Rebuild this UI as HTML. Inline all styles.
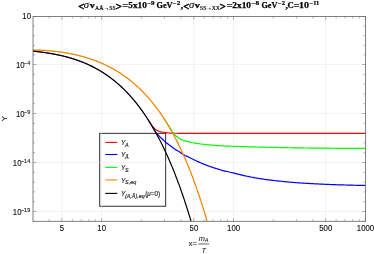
<!DOCTYPE html>
<html><head><meta charset="utf-8"><title>plot</title><style>html,body{margin:0;padding:0;background:#fff}svg{display:block;will-change:transform}</style></head><body>
<svg width="374" height="254" viewBox="0 0 374 254">
<rect width="374" height="254" fill="#fff"/>
<rect x="99.65" y="133.4" width="65.95" height="72.9" fill="#fff" stroke="#444" stroke-width="1.1"/>
<path d="M61.89,16.5 V221.3 M101.60,16.5 V221.3 M193.79,16.5 V221.3 M233.50,16.5 V221.3 M325.69,16.5 V221.3 M33.0,64.50 H365.5 M33.0,113.50 H365.5 M33.0,162.50 H365.5 M33.0,211.50 H365.5" stroke="#e6e6e6" stroke-width="0.5" fill="none"/>
<defs><clipPath id="c"><rect x="33.0" y="16.5" width="332.5" height="204.8"/></clipPath></defs>
<g clip-path="url(#c)" fill="none" stroke-width="1.2" stroke-linejoin="round">
<path d="M32.0,51.03 33.0,51.13 34.0,51.24 35.0,51.34 36.0,51.45 37.0,51.57 38.0,51.68 39.0,51.80 40.0,51.93 41.0,52.05 42.0,52.18 43.0,52.32 44.0,52.46 45.0,52.60 46.0,52.75 47.0,52.90 48.0,53.06 49.0,53.22 50.0,53.38 51.0,53.55 52.0,53.73 53.0,53.91 54.0,54.10 55.0,54.29 56.0,54.48 57.0,54.68 58.0,54.89 59.0,55.11 60.0,55.33 61.0,55.55 62.0,55.78 63.0,56.02 64.0,56.27 65.0,56.52 66.0,56.77 67.0,57.04 68.0,57.31 69.0,57.59 70.0,57.88 71.0,58.17 72.0,58.47 73.0,58.78 74.0,59.10 75.0,59.43 76.0,59.76 77.0,60.11 78.0,60.46 79.0,60.82 80.0,61.19 81.0,61.57 82.0,61.95 83.0,62.35 84.0,62.76 85.0,63.17 86.0,63.60 87.0,64.04 88.0,64.49 89.0,64.95 90.0,65.41 91.0,65.89 92.0,66.39 93.0,66.89 94.0,67.40 95.0,67.93 96.0,68.47 97.0,69.02 98.0,69.58 99.0,70.16 100.0,70.75 101.0,71.35 102.0,71.96 103.0,72.59 104.0,73.24 105.0,73.89 106.0,74.56 107.0,75.25 108.0,75.95 109.0,76.67 110.0,77.40 111.0,78.14 112.0,78.91 113.0,79.69 114.0,80.48 115.0,81.29 116.0,82.12 117.0,82.97 118.0,83.83 119.0,84.71 120.0,85.61 121.0,86.53 122.0,87.47 123.0,88.42 124.0,89.40 125.0,90.39 126.0,91.41 127.0,92.44 128.0,93.50 129.0,94.58 130.0,95.68 131.0,96.80 132.0,97.94 133.0,99.10 134.0,100.29 135.0,101.50 136.0,102.74 137.0,103.99 138.0,105.28 139.0,106.58 140.0,107.92 141.0,109.28 142.0,110.66 143.0,112.07 144.0,113.51 145.0,114.97 146.0,116.47 147.0,117.99 148.0,119.54 149.0,121.14 150.0,122.72" stroke="#ff0000" stroke-width="0.5"/>
<path d="M32.0,51.03 33.0,51.13 34.0,51.24 35.0,51.34 36.0,51.45 37.0,51.57 38.0,51.68 39.0,51.80 40.0,51.93 41.0,52.05 42.0,52.18 43.0,52.32 44.0,52.46 45.0,52.60 46.0,52.75 47.0,52.90 48.0,53.06 49.0,53.22 50.0,53.38 51.0,53.55 52.0,53.73 53.0,53.91 54.0,54.10 55.0,54.29 56.0,54.48 57.0,54.68 58.0,54.89 59.0,55.11 60.0,55.33 61.0,55.55 62.0,55.78 63.0,56.02 64.0,56.27 65.0,56.52 66.0,56.77 67.0,57.04 68.0,57.31 69.0,57.59 70.0,57.88 71.0,58.17 72.0,58.47 73.0,58.78 74.0,59.10 75.0,59.43 76.0,59.76 77.0,60.11 78.0,60.46 79.0,60.82 80.0,61.19 81.0,61.57 82.0,61.95 83.0,62.35 84.0,62.76 85.0,63.17 86.0,63.60 87.0,64.04 88.0,64.49 89.0,64.95 90.0,65.41 91.0,65.89 92.0,66.39 93.0,66.89 94.0,67.40 95.0,67.93 96.0,68.47 97.0,69.02 98.0,69.58 99.0,70.16 100.0,70.75 101.0,71.35 102.0,71.96 103.0,72.59 104.0,73.24 105.0,73.89 106.0,74.56 107.0,75.25 108.0,75.95 109.0,76.67 110.0,77.40 111.0,78.14 112.0,78.91 113.0,79.69 114.0,80.48 115.0,81.29 116.0,82.12 117.0,82.97 118.0,83.83 119.0,84.71 120.0,85.61 121.0,86.53 122.0,87.47 123.0,88.42 124.0,89.40 125.0,90.39 126.0,91.41 127.0,92.44 128.0,93.50 129.0,94.58 130.0,95.68 131.0,96.80 132.0,97.94 133.0,99.10 134.0,100.29 135.0,101.50 136.0,102.74 137.0,103.99 138.0,105.28 139.0,106.58 140.0,107.92 141.0,109.28 142.0,110.66 143.0,112.07 144.0,113.51 145.0,114.97 146.0,116.47 147.0,117.99 148.0,119.54 149.0,121.11 150.0,122.72 151.0,124.37 152.0,126.03 153.0,127.75" stroke="#0000ff" stroke-width="0.5"/>
<path d="M32.0,49.96 33.0,49.97 34.0,49.99 35.0,50.01 36.0,50.04 37.0,50.07 38.0,50.10 39.0,50.14 40.0,50.18 41.0,50.23 42.0,50.28 43.0,50.33 44.0,50.39 45.0,50.46 46.0,50.53 47.0,50.60 48.0,50.67 49.0,50.76 50.0,50.84 51.0,50.93 52.0,51.03 53.0,51.13 54.0,51.23 55.0,51.34 56.0,51.45 57.0,51.57 58.0,51.70 59.0,51.83 60.0,51.96 61.0,52.10 62.0,52.25 63.0,52.40 64.0,52.55 65.0,52.72 66.0,52.88 67.0,53.06 68.0,53.23 69.0,53.42 70.0,53.61 71.0,53.80 72.0,54.01 73.0,54.21 74.0,54.43 75.0,54.65 76.0,54.88 77.0,55.11 78.0,55.35 79.0,55.60 80.0,55.85 81.0,56.11 82.0,56.38 83.0,56.65 84.0,56.94 85.0,57.23 86.0,57.52 87.0,57.83 88.0,58.14 89.0,58.46 90.0,58.79 91.0,59.12 92.0,59.47 93.0,59.82 94.0,60.18 95.0,60.55 96.0,60.93 97.0,61.32 98.0,61.71 99.0,62.12 100.0,62.53 101.0,62.96 102.0,63.39 103.0,63.83 104.0,64.29 105.0,64.75 106.0,65.23 107.0,65.71 108.0,66.21 109.0,66.71 110.0,67.23 111.0,67.76 112.0,68.30 113.0,68.85 114.0,69.42 115.0,69.99 116.0,70.58 117.0,71.18 118.0,71.79 119.0,72.42 120.0,73.06 121.0,73.71 122.0,74.38 123.0,75.06 124.0,75.75 125.0,76.46 126.0,77.18 127.0,77.92 128.0,78.68 129.0,79.45 130.0,80.23 131.0,81.03 132.0,81.85 133.0,82.68 134.0,83.53 135.0,84.40 136.0,85.28 137.0,86.19 138.0,87.11 139.0,88.05 140.0,89.01 141.0,89.98 142.0,90.98 143.0,92.00 144.0,93.03 145.0,94.08 146.0,95.15 147.0,96.24 148.0,97.35 149.0,98.48 150.0,99.63 151.0,100.80 152.0,102.00 153.0,103.22 154.0,104.47 155.0,105.74 156.0,107.03 157.0,108.36 158.0,109.70 159.0,111.08 160.0,112.48 161.0,113.91 162.0,115.36 163.0,116.85 164.0,118.36 165.0,119.90" stroke="#00ff00" stroke-width="0.5"/>
<path d="M149.0,121.14 150.0,122.72 151.0,124.25 152.0,125.72 153.0,126.98 154.0,128.00 155.0,128.92 156.0,129.73 157.0,130.36 158.0,130.87 159.0,131.27 160.0,131.60 161.0,131.88 162.0,132.10 163.0,132.28 164.0,132.44 165.0,132.58 166.0,132.70 167.0,132.81 168.0,132.90 169.0,132.98 170.0,133.05 171.0,133.10 172.0,133.15 173.0,133.20 174.0,133.23 175.0,133.25 176.0,133.26 177.0,133.27 178.0,133.28 179.0,133.29 180.0,133.30 181.0,133.30 182.0,133.30 183.0,133.30 184.0,133.30 185.0,133.30 186.0,133.30 187.0,133.30 188.0,133.30 189.0,133.30 190.0,133.30 191.0,133.30 192.0,133.30 193.0,133.30 194.0,133.30 195.0,133.30 196.0,133.30 197.0,133.30 198.0,133.30 199.0,133.30 200.0,133.30 201.0,133.30 202.0,133.30 203.0,133.30 204.0,133.30 205.0,133.30 206.0,133.30 207.0,133.30 208.0,133.30 209.0,133.30 210.0,133.30 211.0,133.30 212.0,133.30 213.0,133.30 214.0,133.30 215.0,133.30 216.0,133.30 217.0,133.30 218.0,133.30 219.0,133.30 220.0,133.30 221.0,133.30 222.0,133.30 223.0,133.30 224.0,133.30 225.0,133.30 226.0,133.30 227.0,133.30 228.0,133.30 229.0,133.30 230.0,133.30 231.0,133.30 232.0,133.30 233.0,133.30 234.0,133.30 235.0,133.30 236.0,133.30 237.0,133.30 238.0,133.30 239.0,133.30 240.0,133.30 241.0,133.30 242.0,133.30 243.0,133.30 244.0,133.30 245.0,133.30 246.0,133.30 247.0,133.30 248.0,133.30 249.0,133.30 250.0,133.30 251.0,133.30 252.0,133.30 253.0,133.30 254.0,133.30 255.0,133.30 256.0,133.30 257.0,133.30 258.0,133.30 259.0,133.30 260.0,133.30 261.0,133.30 262.0,133.30 263.0,133.30 264.0,133.30 265.0,133.30 266.0,133.30 267.0,133.30 268.0,133.30 269.0,133.30 270.0,133.30 271.0,133.30 272.0,133.30 273.0,133.30 274.0,133.30 275.0,133.30 276.0,133.30 277.0,133.30 278.0,133.30 279.0,133.30 280.0,133.30 281.0,133.30 282.0,133.30 283.0,133.30 284.0,133.30 285.0,133.30 286.0,133.30 287.0,133.30 288.0,133.30 289.0,133.30 290.0,133.30 291.0,133.30 292.0,133.30 293.0,133.30 294.0,133.30 295.0,133.30 296.0,133.30 297.0,133.30 298.0,133.30 299.0,133.30 300.0,133.30 301.0,133.30 302.0,133.30 303.0,133.30 304.0,133.30 305.0,133.30 306.0,133.30 307.0,133.30 308.0,133.30 309.0,133.30 310.0,133.30 311.0,133.30 312.0,133.30 313.0,133.30 314.0,133.30 315.0,133.30 316.0,133.30 317.0,133.30 318.0,133.30 319.0,133.30 320.0,133.30 321.0,133.30 322.0,133.30 323.0,133.30 324.0,133.30 325.0,133.30 326.0,133.30 327.0,133.30 328.0,133.30 329.0,133.30 330.0,133.30 331.0,133.30 332.0,133.30 333.0,133.30 334.0,133.30 335.0,133.30 336.0,133.30 337.0,133.30 338.0,133.30 339.0,133.30 340.0,133.30 341.0,133.30 342.0,133.30 343.0,133.30 344.0,133.30 345.0,133.30 346.0,133.30 347.0,133.30 348.0,133.30 349.0,133.30 350.0,133.30 351.0,133.30 352.0,133.30 353.0,133.30 354.0,133.30 355.0,133.30 356.0,133.30 357.0,133.30 358.0,133.30 359.0,133.30 360.0,133.30 361.0,133.30 362.0,133.30 363.0,133.30 364.0,133.30 365.0,133.30 366.0,133.30" stroke="#ff0000"/>
<path d="M152.0,126.03 153.0,127.75 154.0,129.50 155.0,131.13 156.0,132.52 157.0,133.71 158.0,134.80 159.0,135.85 160.0,136.86 161.0,137.84 162.0,138.80 163.0,139.75 164.0,140.68 165.0,141.57 166.0,142.43 167.0,143.25 168.0,144.05 169.0,144.83 170.0,145.56 171.0,146.27 172.0,146.99 173.0,147.76 174.0,148.60 175.0,149.27 176.0,149.86 177.0,150.41 178.0,150.96 179.0,151.55 180.0,152.21 181.0,152.94 182.0,153.68 183.0,154.34 184.0,154.90 185.0,155.42 186.0,155.91 187.0,156.37 188.0,156.82 189.0,157.28 190.0,157.75 191.0,158.24 192.0,158.74 193.0,159.24 194.0,159.74 195.0,160.22 196.0,160.70 197.0,161.17 198.0,161.63 199.0,162.09 200.0,162.54 201.0,162.98 202.0,163.41 203.0,163.82 204.0,164.23 205.0,164.64 206.0,165.03 207.0,165.42 208.0,165.79 209.0,166.16 210.0,166.51 211.0,166.85 212.0,167.19 213.0,167.51 214.0,167.84 215.0,168.15 216.0,168.47 217.0,168.78 218.0,169.10 219.0,169.42 220.0,169.72 221.0,170.02 222.0,170.31 223.0,170.58 224.0,170.83 225.0,171.08 226.0,171.31 227.0,171.54 228.0,171.77 229.0,172.01 230.0,172.24 231.0,172.48 232.0,172.72 233.0,172.95 234.0,173.19 235.0,173.43 236.0,173.68 237.0,173.93 238.0,174.19 239.0,174.45 240.0,174.70 241.0,174.93 242.0,175.16 243.0,175.39 244.0,175.61 245.0,175.82 246.0,176.03 247.0,176.24 248.0,176.44 249.0,176.64 250.0,176.84 251.0,177.03 252.0,177.23 253.0,177.42 254.0,177.61 255.0,177.79 256.0,177.97 257.0,178.15 258.0,178.32 259.0,178.49 260.0,178.65 261.0,178.81 262.0,178.96 263.0,179.11 264.0,179.26 265.0,179.40 266.0,179.54 267.0,179.68 268.0,179.81 269.0,179.94 270.0,180.06 271.0,180.18 272.0,180.30 273.0,180.41 274.0,180.52 275.0,180.63 276.0,180.74 277.0,180.85 278.0,180.95 279.0,181.06 280.0,181.16 281.0,181.27 282.0,181.38 283.0,181.48 284.0,181.59 285.0,181.69 286.0,181.79 287.0,181.89 288.0,181.99 289.0,182.08 290.0,182.17 291.0,182.26 292.0,182.35 293.0,182.44 294.0,182.52 295.0,182.60 296.0,182.68 297.0,182.76 298.0,182.83 299.0,182.90 300.0,182.96 301.0,183.02 302.0,183.08 303.0,183.14 304.0,183.19 305.0,183.25 306.0,183.30 307.0,183.36 308.0,183.41 309.0,183.47 310.0,183.53 311.0,183.58 312.0,183.64 313.0,183.69 314.0,183.75 315.0,183.80 316.0,183.86 317.0,183.91 318.0,183.96 319.0,184.01 320.0,184.06 321.0,184.10 322.0,184.15 323.0,184.19 324.0,184.24 325.0,184.28 326.0,184.32 327.0,184.36 328.0,184.41 329.0,184.45 330.0,184.49 331.0,184.53 332.0,184.56 333.0,184.60 334.0,184.64 335.0,184.68 336.0,184.71 337.0,184.75 338.0,184.78 339.0,184.81 340.0,184.84 341.0,184.88 342.0,184.91 343.0,184.94 344.0,184.97 345.0,184.99 346.0,185.02 347.0,185.05 348.0,185.08 349.0,185.11 350.0,185.13 351.0,185.16 352.0,185.19 353.0,185.21 354.0,185.24 355.0,185.26 356.0,185.29 357.0,185.31 358.0,185.33 359.0,185.35 360.0,185.38 361.0,185.40 362.0,185.42 363.0,185.44 364.0,185.46 365.0,185.47 366.0,185.49" stroke="#0000ff"/>
<path d="M164.0,118.36 165.0,119.90 166.0,121.48 167.0,123.08 168.0,124.71 169.0,126.41 170.0,128.08 171.0,129.64 172.0,131.14 173.0,132.54 174.0,133.81 175.0,134.98 176.0,135.98 177.0,136.85 178.0,137.60 179.0,138.27 180.0,138.89 181.0,139.44 182.0,139.90 183.0,140.29 184.0,140.62 185.0,140.93 186.0,141.20 187.0,141.45 188.0,141.68 189.0,141.89 190.0,142.10 191.0,142.32 192.0,142.53 193.0,142.74 194.0,142.95 195.0,143.13 196.0,143.30 197.0,143.45 198.0,143.60 199.0,143.74 200.0,143.87 201.0,144.00 202.0,144.12 203.0,144.24 204.0,144.35 205.0,144.46 206.0,144.57 207.0,144.67 208.0,144.77 209.0,144.86 210.0,144.96 211.0,145.05 212.0,145.13 213.0,145.22 214.0,145.31 215.0,145.39 216.0,145.47 217.0,145.54 218.0,145.61 219.0,145.68 220.0,145.75 221.0,145.81 222.0,145.86 223.0,145.91 224.0,145.96 225.0,146.01 226.0,146.05 227.0,146.09 228.0,146.13 229.0,146.16 230.0,146.20 231.0,146.23 232.0,146.27 233.0,146.30 234.0,146.33 235.0,146.36 236.0,146.40 237.0,146.43 238.0,146.46 239.0,146.49 240.0,146.52 241.0,146.55 242.0,146.58 243.0,146.61 244.0,146.64 245.0,146.67 246.0,146.70 247.0,146.73 248.0,146.76 249.0,146.78 250.0,146.81 251.0,146.84 252.0,146.87 253.0,146.89 254.0,146.92 255.0,146.95 256.0,146.97 257.0,147.00 258.0,147.02 259.0,147.05 260.0,147.07 261.0,147.10 262.0,147.12 263.0,147.15 264.0,147.17 265.0,147.20 266.0,147.22 267.0,147.24 268.0,147.27 269.0,147.29 270.0,147.31 271.0,147.33 272.0,147.36 273.0,147.38 274.0,147.40 275.0,147.42 276.0,147.45 277.0,147.47 278.0,147.49 279.0,147.51 280.0,147.54 281.0,147.56 282.0,147.58 283.0,147.60 284.0,147.62 285.0,147.65 286.0,147.67 287.0,147.69 288.0,147.71 289.0,147.73 290.0,147.75 291.0,147.77 292.0,147.79 293.0,147.81 294.0,147.83 295.0,147.84 296.0,147.86 297.0,147.88 298.0,147.89 299.0,147.91 300.0,147.92 301.0,147.94 302.0,147.95 303.0,147.97 304.0,147.98 305.0,147.99 306.0,148.00 307.0,148.01 308.0,148.02 309.0,148.03 310.0,148.04 311.0,148.05 312.0,148.06 313.0,148.07 314.0,148.08 315.0,148.09 316.0,148.10 317.0,148.11 318.0,148.12 319.0,148.13 320.0,148.14 321.0,148.15 322.0,148.16 323.0,148.17 324.0,148.18 325.0,148.19 326.0,148.19 327.0,148.20 328.0,148.21 329.0,148.22 330.0,148.23 331.0,148.24 332.0,148.24 333.0,148.25 334.0,148.26 335.0,148.27 336.0,148.28 337.0,148.28 338.0,148.29 339.0,148.30 340.0,148.30 341.0,148.31 342.0,148.32 343.0,148.32 344.0,148.33 345.0,148.33 346.0,148.34 347.0,148.35 348.0,148.35 349.0,148.36 350.0,148.36 351.0,148.36 352.0,148.37 353.0,148.37 354.0,148.38 355.0,148.38 356.0,148.38 357.0,148.39 358.0,148.39 359.0,148.39 360.0,148.39 361.0,148.40 362.0,148.40 363.0,148.40 364.0,148.40 365.0,148.40 366.0,148.40" stroke="#00ff00"/>
<path d="M32.0,49.96 32.5,49.97 33.0,49.97 33.5,49.98 34.0,49.99 34.5,50.00 35.0,50.01 35.5,50.03 36.0,50.04 36.5,50.05 37.0,50.07 37.5,50.09 38.0,50.10 38.5,50.12 39.0,50.14 39.5,50.16 40.0,50.18 40.5,50.21 41.0,50.23 41.5,50.25 42.0,50.28 42.5,50.31 43.0,50.33 43.5,50.36 44.0,50.39 44.5,50.43 45.0,50.46 45.5,50.49 46.0,50.53 46.5,50.56 47.0,50.60 47.5,50.64 48.0,50.67 48.5,50.71 49.0,50.76 49.5,50.80 50.0,50.84 50.5,50.89 51.0,50.93 51.5,50.98 52.0,51.03 52.5,51.08 53.0,51.13 53.5,51.18 54.0,51.23 54.5,51.29 55.0,51.34 55.5,51.40 56.0,51.45 56.5,51.51 57.0,51.57 57.5,51.64 58.0,51.70 58.5,51.76 59.0,51.83 59.5,51.89 60.0,51.96 60.5,52.03 61.0,52.10 61.5,52.17 62.0,52.25 62.5,52.32 63.0,52.40 63.5,52.48 64.0,52.55 64.5,52.63 65.0,52.72 65.5,52.80 66.0,52.88 66.5,52.97 67.0,53.06 67.5,53.14 68.0,53.23 68.5,53.32 69.0,53.42 69.5,53.51 70.0,53.61 70.5,53.70 71.0,53.80 71.5,53.90 72.0,54.01 72.5,54.11 73.0,54.21 73.5,54.32 74.0,54.43 74.5,54.54 75.0,54.65 75.5,54.76 76.0,54.88 76.5,54.99 77.0,55.11 77.5,55.23 78.0,55.35 78.5,55.47 79.0,55.60 79.5,55.72 80.0,55.85 80.5,55.98 81.0,56.11 81.5,56.24 82.0,56.38 82.5,56.52 83.0,56.65 83.5,56.79 84.0,56.94 84.5,57.08 85.0,57.23 85.5,57.37 86.0,57.52 86.5,57.67 87.0,57.83 87.5,57.98 88.0,58.14 88.5,58.30 89.0,58.46 89.5,58.62 90.0,58.79 90.5,58.95 91.0,59.12 91.5,59.29 92.0,59.47 92.5,59.64 93.0,59.82 93.5,60.00 94.0,60.18 94.5,60.36 95.0,60.55 95.5,60.74 96.0,60.93 96.5,61.12 97.0,61.32 97.5,61.51 98.0,61.71 98.5,61.91 99.0,62.12 99.5,62.32 100.0,62.53 100.5,62.74 101.0,62.96 101.5,63.17 102.0,63.39 102.5,63.61 103.0,63.83 103.5,64.06 104.0,64.29 104.5,64.52 105.0,64.75 105.5,64.99 106.0,65.23 106.5,65.47 107.0,65.71 107.5,65.96 108.0,66.21 108.5,66.46 109.0,66.71 109.5,66.97 110.0,67.23 110.5,67.49 111.0,67.76 111.5,68.03 112.0,68.30 112.5,68.57 113.0,68.85 113.5,69.13 114.0,69.42 114.5,69.70 115.0,69.99 115.5,70.28 116.0,70.58 116.5,70.88 117.0,71.18 117.5,71.49 118.0,71.79 118.5,72.10 119.0,72.42 119.5,72.74 120.0,73.06 120.5,73.38 121.0,73.71 121.5,74.04 122.0,74.38 122.5,74.72 123.0,75.06 123.5,75.40 124.0,75.75 124.5,76.11 125.0,76.46 125.5,76.82 126.0,77.18 126.5,77.55 127.0,77.92 127.5,78.30 128.0,78.68 128.5,79.06 129.0,79.45 129.5,79.84 130.0,80.23 130.5,80.63 131.0,81.03 131.5,81.44 132.0,81.85 132.5,82.26 133.0,82.68 133.5,83.10 134.0,83.53 134.5,83.96 135.0,84.40 135.5,84.84 136.0,85.28 136.5,85.73 137.0,86.19 137.5,86.64 138.0,87.11 138.5,87.57 139.0,88.05 139.5,88.52 140.0,89.01 140.5,89.49 141.0,89.98 141.5,90.48 142.0,90.98 142.5,91.48 143.0,92.00 143.5,92.51 144.0,93.03 144.5,93.56 145.0,94.09 145.5,94.63 146.0,95.17 146.5,95.71 147.0,96.27 147.5,96.83 148.0,97.39 148.5,97.96 149.0,98.53 149.5,99.11 150.0,99.70 150.5,100.29 151.0,100.89 151.5,101.49 152.0,102.10 152.5,102.71 153.0,103.33 153.5,103.96 154.0,104.59 154.5,105.23 155.0,105.88 155.5,106.53 156.0,107.19 156.5,107.85 157.0,108.52 157.5,109.20 158.0,109.89 158.5,110.58 159.0,111.27 159.5,111.98 160.0,112.69 160.5,113.41 161.0,114.13 161.5,114.86 162.0,115.60 162.5,116.35 163.0,117.10 163.5,117.86 164.0,118.63 164.5,119.40 165.0,120.18 165.5,120.97 166.0,121.77 166.5,122.57 167.0,123.39 167.5,124.21 168.0,125.04 168.5,125.87 169.0,126.72 169.5,127.57 170.0,128.43 170.5,129.30 171.0,130.18 171.5,131.06 172.0,131.96 172.5,132.86 173.0,133.77 173.5,134.69 174.0,135.62 174.5,136.55 175.0,137.50 175.5,138.46 176.0,139.42 176.5,140.39 177.0,141.38 177.5,142.37 178.0,143.37 178.5,144.38 179.0,145.40 179.5,146.43 180.0,147.47 180.5,148.52 181.0,149.58 181.5,150.65 182.0,151.73 182.5,152.82 183.0,153.92 183.5,155.04 184.0,156.16 184.5,157.29 185.0,158.43 185.5,159.59 186.0,160.75 186.5,161.93 187.0,163.11 187.5,164.31 188.0,165.52 188.5,166.74 189.0,167.97 189.5,169.22 190.0,170.47 190.5,171.74 191.0,173.02 191.5,174.31 192.0,175.62 192.5,176.93 193.0,178.26 193.5,179.60 194.0,180.95 194.5,182.32 195.0,183.70 195.5,185.09 196.0,186.50 196.5,187.91 197.0,189.35 197.5,190.79 198.0,192.25 198.5,193.72 199.0,195.21 199.5,196.71 200.0,198.22 200.5,199.75 201.0,201.29 201.5,202.85 202.0,204.42 202.5,206.00 203.0,207.61 203.5,209.22 204.0,210.85 204.5,212.50 205.0,214.16 205.5,215.84 206.0,217.53 206.5,219.24 207.0,220.96 207.5,222.70 208.0,224.46 208.5,226.23 209.0,228.02 209.5,229.83 210.0,231.65 210.5,233.49" stroke="#ff8000"/>
<path d="M32.0,51.03 32.5,51.08 33.0,51.13 33.5,51.18 34.0,51.24 34.5,51.29 35.0,51.34 35.5,51.40 36.0,51.45 36.5,51.51 37.0,51.57 37.5,51.62 38.0,51.68 38.5,51.74 39.0,51.80 39.5,51.86 40.0,51.93 40.5,51.99 41.0,52.05 41.5,52.12 42.0,52.18 42.5,52.25 43.0,52.32 43.5,52.39 44.0,52.46 44.5,52.53 45.0,52.60 45.5,52.68 46.0,52.75 46.5,52.82 47.0,52.90 47.5,52.98 48.0,53.06 48.5,53.14 49.0,53.22 49.5,53.30 50.0,53.38 50.5,53.47 51.0,53.55 51.5,53.64 52.0,53.73 52.5,53.82 53.0,53.91 53.5,54.00 54.0,54.10 54.5,54.19 55.0,54.29 55.5,54.38 56.0,54.48 56.5,54.58 57.0,54.68 57.5,54.79 58.0,54.89 58.5,55.00 59.0,55.11 59.5,55.21 60.0,55.33 60.5,55.44 61.0,55.55 61.5,55.67 62.0,55.78 62.5,55.90 63.0,56.02 63.5,56.14 64.0,56.27 64.5,56.39 65.0,56.52 65.5,56.64 66.0,56.77 66.5,56.91 67.0,57.04 67.5,57.18 68.0,57.31 68.5,57.45 69.0,57.59 69.5,57.73 70.0,57.88 70.5,58.02 71.0,58.17 71.5,58.32 72.0,58.47 72.5,58.63 73.0,58.78 73.5,58.94 74.0,59.10 74.5,59.26 75.0,59.43 75.5,59.59 76.0,59.76 76.5,59.93 77.0,60.11 77.5,60.28 78.0,60.46 78.5,60.64 79.0,60.82 79.5,61.00 80.0,61.19 80.5,61.37 81.0,61.57 81.5,61.76 82.0,61.95 82.5,62.15 83.0,62.35 83.5,62.55 84.0,62.76 84.5,62.96 85.0,63.17 85.5,63.39 86.0,63.60 86.5,63.82 87.0,64.04 87.5,64.26 88.0,64.49 88.5,64.71 89.0,64.95 89.5,65.18 90.0,65.41 90.5,65.65 91.0,65.89 91.5,66.14 92.0,66.39 92.5,66.64 93.0,66.89 93.5,67.14 94.0,67.40 94.5,67.67 95.0,67.93 95.5,68.20 96.0,68.47 96.5,68.74 97.0,69.02 97.5,69.30 98.0,69.58 98.5,69.87 99.0,70.16 99.5,70.45 100.0,70.75 100.5,71.05 101.0,71.35 101.5,71.66 102.0,71.96 102.5,72.28 103.0,72.59 103.5,72.91 104.0,73.24 104.5,73.56 105.0,73.89 105.5,74.23 106.0,74.56 106.5,74.91 107.0,75.25 107.5,75.60 108.0,75.95 108.5,76.31 109.0,76.67 109.5,77.03 110.0,77.40 110.5,77.77 111.0,78.14 111.5,78.52 112.0,78.91 112.5,79.29 113.0,79.69 113.5,80.08 114.0,80.48 114.5,80.89 115.0,81.29 115.5,81.71 116.0,82.12 116.5,82.54 117.0,82.97 117.5,83.40 118.0,83.83 118.5,84.27 119.0,84.71 119.5,85.16 120.0,85.61 120.5,86.07 121.0,86.53 121.5,87.00 122.0,87.47 122.5,87.94 123.0,88.42 123.5,88.91 124.0,89.40 124.5,89.89 125.0,90.39 125.5,90.90 126.0,91.41 126.5,91.92 127.0,92.44 127.5,92.97 128.0,93.50 128.5,94.04 129.0,94.58 129.5,95.12 130.0,95.68 130.5,96.23 131.0,96.80 131.5,97.36 132.0,97.94 132.5,98.52 133.0,99.10 133.5,99.69 134.0,100.29 134.5,100.89 135.0,101.50 135.5,102.12 136.0,102.74 136.5,103.36 137.0,103.99 137.5,104.63 138.0,105.28 138.5,105.93 139.0,106.58 139.5,107.25 140.0,107.92 140.5,108.59 141.0,109.28 141.5,109.96 142.0,110.66 142.5,111.36 143.0,112.07 143.5,112.79 144.0,113.51 144.5,114.24 145.0,114.97 145.5,115.72 146.0,116.47 146.5,117.22 147.0,117.99 147.5,118.76 148.0,119.54 148.5,120.32 149.0,121.11 149.5,121.91 150.0,122.72 150.5,123.54 151.0,124.36 151.5,125.19 152.0,126.03 152.5,126.87 153.0,127.73 153.5,128.59 154.0,129.46 154.5,130.34 155.0,131.22 155.5,132.12 156.0,133.02 156.5,133.93 157.0,134.85 157.5,135.77 158.0,136.71 158.5,137.65 159.0,138.61 159.5,139.57 160.0,140.54 160.5,141.52 161.0,142.50 161.5,143.50 162.0,144.51 162.5,145.52 163.0,146.55 163.5,147.58 164.0,148.62 164.5,149.67 165.0,150.74 165.5,151.81 166.0,152.89 166.5,153.98 167.0,155.08 167.5,156.19 168.0,157.31 168.5,158.44 169.0,159.58 169.5,160.73 170.0,161.89 170.5,163.06 171.0,164.25 171.5,165.44 172.0,166.64 172.5,167.85 173.0,169.08 173.5,170.31 174.0,171.56 174.5,172.82 175.0,174.09 175.5,175.37 176.0,176.66 176.5,177.96 177.0,179.27 177.5,180.60 178.0,181.94 178.5,183.29 179.0,184.65 179.5,186.02 180.0,187.41 180.5,188.80 181.0,190.21 181.5,191.63 182.0,193.07 182.5,194.52 183.0,195.98 183.5,197.45 184.0,198.93 184.5,200.43 185.0,201.94 185.5,203.47 186.0,205.01 186.5,206.56 187.0,208.12 187.5,209.70 188.0,211.30 188.5,212.90 189.0,214.52 189.5,216.16 190.0,217.81 190.5,219.47 191.0,221.15 191.5,222.84 192.0,224.55 192.5,226.27 193.0,228.00 193.5,229.76" stroke="#000"/>
</g>
<rect x="33.0" y="16.5" width="332.5" height="204.8" fill="none" stroke="#666" stroke-width="0.82"/>
<path d="M61.89,221.3 v-3.4 M61.89,16.5 v3.4 M101.60,221.3 v-3.4 M101.60,16.5 v3.4 M193.79,221.3 v-3.4 M193.79,16.5 v3.4 M233.50,221.3 v-3.4 M233.50,16.5 v3.4 M325.69,221.3 v-3.4 M325.69,16.5 v3.4 M365.40,221.3 v-3.4 M365.40,16.5 v3.4 M49.11,221.3 v-2 M49.11,16.5 v2 M72.34,221.3 v-2 M72.34,16.5 v2 M81.17,221.3 v-2 M81.17,16.5 v2 M88.82,221.3 v-2 M88.82,16.5 v2 M95.56,221.3 v-2 M95.56,16.5 v2 M141.31,221.3 v-2 M141.31,16.5 v2 M164.53,221.3 v-2 M164.53,16.5 v2 M181.01,221.3 v-2 M181.01,16.5 v2 M204.24,221.3 v-2 M204.24,16.5 v2 M213.07,221.3 v-2 M213.07,16.5 v2 M220.72,221.3 v-2 M220.72,16.5 v2 M227.46,221.3 v-2 M227.46,16.5 v2 M273.21,221.3 v-2 M273.21,16.5 v2 M296.43,221.3 v-2 M296.43,16.5 v2 M312.91,221.3 v-2 M312.91,16.5 v2 M336.14,221.3 v-2 M336.14,16.5 v2 M344.97,221.3 v-2 M344.97,16.5 v2 M352.62,221.3 v-2 M352.62,16.5 v2 M359.36,221.3 v-2 M359.36,16.5 v2 M33.0,16.50 h3.4 M365.5,16.50 h-3.4 M33.0,26.10 h2 M365.5,26.10 h-2 M33.0,35.70 h2 M365.5,35.70 h-2 M33.0,45.30 h2 M365.5,45.30 h-2 M33.0,54.90 h2 M365.5,54.90 h-2 M33.0,64.50 h3.4 M365.5,64.50 h-3.4 M33.0,74.30 h2 M365.5,74.30 h-2 M33.0,84.10 h2 M365.5,84.10 h-2 M33.0,93.90 h2 M365.5,93.90 h-2 M33.0,103.70 h2 M365.5,103.70 h-2 M33.0,113.50 h3.4 M365.5,113.50 h-3.4 M33.0,123.30 h2 M365.5,123.30 h-2 M33.0,133.10 h2 M365.5,133.10 h-2 M33.0,142.90 h2 M365.5,142.90 h-2 M33.0,152.70 h2 M365.5,152.70 h-2 M33.0,162.50 h3.4 M365.5,162.50 h-3.4 M33.0,172.30 h2 M365.5,172.30 h-2 M33.0,182.10 h2 M365.5,182.10 h-2 M33.0,191.90 h2 M365.5,191.90 h-2 M33.0,201.70 h2 M365.5,201.70 h-2 M33.0,211.50 h3.4 M365.5,211.50 h-3.4 M33.0,221.30 h2 M365.5,221.30 h-2" stroke="#666" stroke-width="0.5" fill="none"/>
<g font-family="'Liberation Sans', sans-serif" font-size="8.3" fill="#111" stroke="#111" stroke-width="0.12">
<text x="59.82" y="230.8" textLength="4.34" lengthAdjust="spacingAndGlyphs">5</text>
<text x="97.36" y="230.8" textLength="8.68" lengthAdjust="spacingAndGlyphs">10</text>
<text x="189.55" y="230.8" textLength="8.68" lengthAdjust="spacingAndGlyphs">50</text>
<text x="227.09" y="230.8" textLength="13.02" lengthAdjust="spacingAndGlyphs">100</text>
<text x="319.28" y="230.8" textLength="13.02" lengthAdjust="spacingAndGlyphs">500</text>
<text x="356.82" y="230.8" textLength="17.36" lengthAdjust="spacingAndGlyphs">1000</text>
<text x="22.3" y="19.00" textLength="8.68" lengthAdjust="spacingAndGlyphs">10</text>
<text x="15.90" y="67.70" textLength="8.68" lengthAdjust="spacingAndGlyphs">10</text>
<text x="24.00" y="64.90" font-size="5.9" textLength="6.30" lengthAdjust="spacingAndGlyphs">−4</text>
<text x="15.90" y="116.70" textLength="8.68" lengthAdjust="spacingAndGlyphs">10</text>
<text x="24.00" y="113.90" font-size="5.9" textLength="6.30" lengthAdjust="spacingAndGlyphs">−9</text>
<text x="12.80" y="165.70" textLength="8.68" lengthAdjust="spacingAndGlyphs">10</text>
<text x="20.90" y="162.90" font-size="5.9" textLength="9.40" lengthAdjust="spacingAndGlyphs">−14</text>
<text x="12.80" y="214.70" textLength="8.68" lengthAdjust="spacingAndGlyphs">10</text>
<text x="20.90" y="211.90" font-size="5.9" textLength="9.40" lengthAdjust="spacingAndGlyphs">−19</text>
<text transform="translate(7.3,118.7) rotate(-90)" text-anchor="middle" font-size="7.8">Y</text>
<text x="188.6" y="246.3" font-size="8.0" textLength="8.6" lengthAdjust="spacingAndGlyphs" stroke-width="0.05">x=</text>
<text x="203.6" y="241.4" text-anchor="middle" font-size="7.4" font-style="italic" stroke-width="0.05">m<tspan font-size="5.6" dy="0.8">A</tspan></text>
<text x="203.8" y="252.9" text-anchor="middle" font-size="7.4" font-style="italic" stroke-width="0.05">T</text>
</g>
<path d="M198.3,243.95 H209.2" stroke="#555" stroke-width="0.9"/>
<path d="M105.3,142.4 H117.3" stroke="#ff0000" stroke-width="1.1"/>
<path d="M105.3,154.5 H117.3" stroke="#0000ff" stroke-width="1.1"/>
<path d="M105.3,167.4 H117.3" stroke="#00ff00" stroke-width="1.1"/>
<path d="M105.3,179.9 H117.3" stroke="#ff8000" stroke-width="1.1"/>
<path d="M105.3,193.4 H117.3" stroke="#000" stroke-width="1.1"/>
<g font-family="'Liberation Sans', sans-serif" font-style="italic" fill="#222" stroke="#222" stroke-width="0.15">
<text x="121" y="145.0" font-size="6.6" textLength="4.3" lengthAdjust="spacingAndGlyphs">Y</text>
<text x="125.0" y="146.8" font-size="5.5">A</text>
<text x="121" y="157.1" font-size="6.6" textLength="4.3" lengthAdjust="spacingAndGlyphs">Y</text>
<text x="125.0" y="158.9" font-size="5.5">Ā</text>
<text x="121" y="170.0" font-size="6.6" textLength="4.3" lengthAdjust="spacingAndGlyphs">Y</text>
<text x="125.0" y="171.8" font-size="5.5">S</text>
<text x="121" y="182.5" font-size="6.6" textLength="4.3" lengthAdjust="spacingAndGlyphs">Y</text>
<text x="125.0" y="184.3" font-size="5.5">S,eq</text>
<text x="121" y="196.0" font-size="6.6" textLength="4.3" lengthAdjust="spacingAndGlyphs">Y</text>
<text x="124.9" y="197.8" font-size="5.4">{A,Ā},eq</text>
<text x="145.2" y="195.8" font-size="6.4" font-style="normal" textLength="14.9" lengthAdjust="spacingAndGlyphs">(<tspan font-style="italic">μ</tspan>=0)</text>
</g>
<text x="78.21" y="9.7" style="font-family:'Liberation Serif',serif;font-weight:bold;font-size:11.2px" fill="#000" stroke="#000" stroke-width="0.5" textLength="6.06" lengthAdjust="spacingAndGlyphs">&lt;</text>
<text x="83.86" y="8.4" style="font-family:'Liberation Serif',serif;font-weight:normal;font-style:italic;font-size:9.3px" fill="#000" stroke="#000" stroke-width="0.1" textLength="5.28" lengthAdjust="spacingAndGlyphs">σ</text>
<text x="89.66" y="8.3" style="font-family:'Liberation Serif',serif;font-weight:bold;font-size:9.0px" fill="#000" stroke="#000" stroke-width="0.25" textLength="5.17" lengthAdjust="spacingAndGlyphs">v</text>
<text x="95.0" y="10.45" style="font-family:'Liberation Serif',serif;font-weight:bold;font-size:6.3px" fill="#000" stroke="#000" stroke-width="0.2" textLength="20.68" lengthAdjust="spacingAndGlyphs"><tspan style="font-weight:normal">A</tspan>Ā→<tspan style="font-weight:normal">SS</tspan></text>
<text x="115.86" y="9.7" style="font-family:'Liberation Serif',serif;font-weight:bold;font-size:11.2px" fill="#000" stroke="#000" stroke-width="0.5" textLength="6.06" lengthAdjust="spacingAndGlyphs">&gt;</text>
<text x="122.04" y="8.8" style="font-family:'Liberation Serif',serif;font-weight:bold;font-size:9.6px" fill="#000" stroke="#000" stroke-width="0" textLength="6.29" lengthAdjust="spacingAndGlyphs">=</text>
<text x="128.29" y="8.3" style="font-family:'Liberation Serif',serif;font-weight:bold;font-size:9.0px" fill="#000" stroke="#000" stroke-width="0.25" textLength="18.52" lengthAdjust="spacingAndGlyphs">5x10</text>
<text x="147.04" y="5.0" style="font-family:'Liberation Serif',serif;font-weight:bold;font-size:6.0px" fill="#000" stroke="#000" stroke-width="0.2" textLength="7.62" lengthAdjust="spacingAndGlyphs">−9</text>
<text x="156.43" y="8.3" style="font-family:'Liberation Serif',serif;font-weight:bold;font-size:9.0px" fill="#000" stroke="#000" stroke-width="0.25" textLength="16.16" lengthAdjust="spacingAndGlyphs">GeV</text>
<text x="172.64" y="5.0" style="font-family:'Liberation Serif',serif;font-weight:bold;font-size:6.0px" fill="#000" stroke="#000" stroke-width="0.2" textLength="7.62" lengthAdjust="spacingAndGlyphs">−2</text>
<text x="180.69" y="8.3" style="font-family:'Liberation Serif',serif;font-weight:bold;font-size:9.0px" fill="#000" stroke="#000" stroke-width="0.25" textLength="2.5" lengthAdjust="spacingAndGlyphs">,</text>
<text x="183.31" y="9.7" style="font-family:'Liberation Serif',serif;font-weight:bold;font-size:11.2px" fill="#000" stroke="#000" stroke-width="0.5" textLength="6.06" lengthAdjust="spacingAndGlyphs">&lt;</text>
<text x="188.91" y="8.4" style="font-family:'Liberation Serif',serif;font-weight:normal;font-style:italic;font-size:9.3px" fill="#000" stroke="#000" stroke-width="0.1" textLength="5.28" lengthAdjust="spacingAndGlyphs">σ</text>
<text x="194.7" y="8.3" style="font-family:'Liberation Serif',serif;font-weight:bold;font-size:9.0px" fill="#000" stroke="#000" stroke-width="0.25" textLength="5.1" lengthAdjust="spacingAndGlyphs">v</text>
<text x="200.05" y="10.45" style="font-family:'Liberation Serif',serif;font-weight:normal;font-size:6.3px" fill="#000" stroke="#000" stroke-width="0.2" textLength="19.75" lengthAdjust="spacingAndGlyphs">SS→XX</text>
<text x="219.86" y="9.7" style="font-family:'Liberation Serif',serif;font-weight:bold;font-size:11.2px" fill="#000" stroke="#000" stroke-width="0.5" textLength="6.06" lengthAdjust="spacingAndGlyphs">&gt;</text>
<text x="226.44" y="8.8" style="font-family:'Liberation Serif',serif;font-weight:bold;font-size:9.6px" fill="#000" stroke="#000" stroke-width="0" textLength="6.29" lengthAdjust="spacingAndGlyphs">=</text>
<text x="232.39" y="8.3" style="font-family:'Liberation Serif',serif;font-weight:bold;font-size:9.0px" fill="#000" stroke="#000" stroke-width="0.25" textLength="18.62" lengthAdjust="spacingAndGlyphs">2x10</text>
<text x="251.23" y="5.0" style="font-family:'Liberation Serif',serif;font-weight:bold;font-size:6.0px" fill="#000" stroke="#000" stroke-width="0.2" textLength="7.83" lengthAdjust="spacingAndGlyphs">−8</text>
<text x="261.44" y="8.3" style="font-family:'Liberation Serif',serif;font-weight:bold;font-size:9.0px" fill="#000" stroke="#000" stroke-width="0.25" textLength="15.95" lengthAdjust="spacingAndGlyphs">GeV</text>
<text x="277.86" y="5.0" style="font-family:'Liberation Serif',serif;font-weight:bold;font-size:6.0px" fill="#000" stroke="#000" stroke-width="0.2" textLength="7.18" lengthAdjust="spacingAndGlyphs">−2</text>
<text x="285.49" y="8.3" style="font-family:'Liberation Serif',serif;font-weight:bold;font-size:9.0px" fill="#000" stroke="#000" stroke-width="0.25" textLength="2.5" lengthAdjust="spacingAndGlyphs">,</text>
<text x="287.61" y="8.3" style="font-family:'Liberation Serif',serif;font-weight:bold;font-size:9.0px" fill="#000" stroke="#000" stroke-width="0.25" textLength="6.26" lengthAdjust="spacingAndGlyphs">C</text>
<text x="293.44" y="8.8" style="font-family:'Liberation Serif',serif;font-weight:bold;font-size:9.6px" fill="#000" stroke="#000" stroke-width="0" textLength="6.29" lengthAdjust="spacingAndGlyphs">=</text>
<text x="299.12" y="8.3" style="font-family:'Liberation Serif',serif;font-weight:bold;font-size:9.0px" fill="#000" stroke="#000" stroke-width="0.25" textLength="10.01" lengthAdjust="spacingAndGlyphs">10</text>
<text x="309.48" y="4.5" style="font-family:'Liberation Serif',serif;font-weight:bold;font-size:6.0px" fill="#000" stroke="#000" stroke-width="0.2" textLength="9.73" lengthAdjust="spacingAndGlyphs">−11</text>
</svg>
</body></html>
